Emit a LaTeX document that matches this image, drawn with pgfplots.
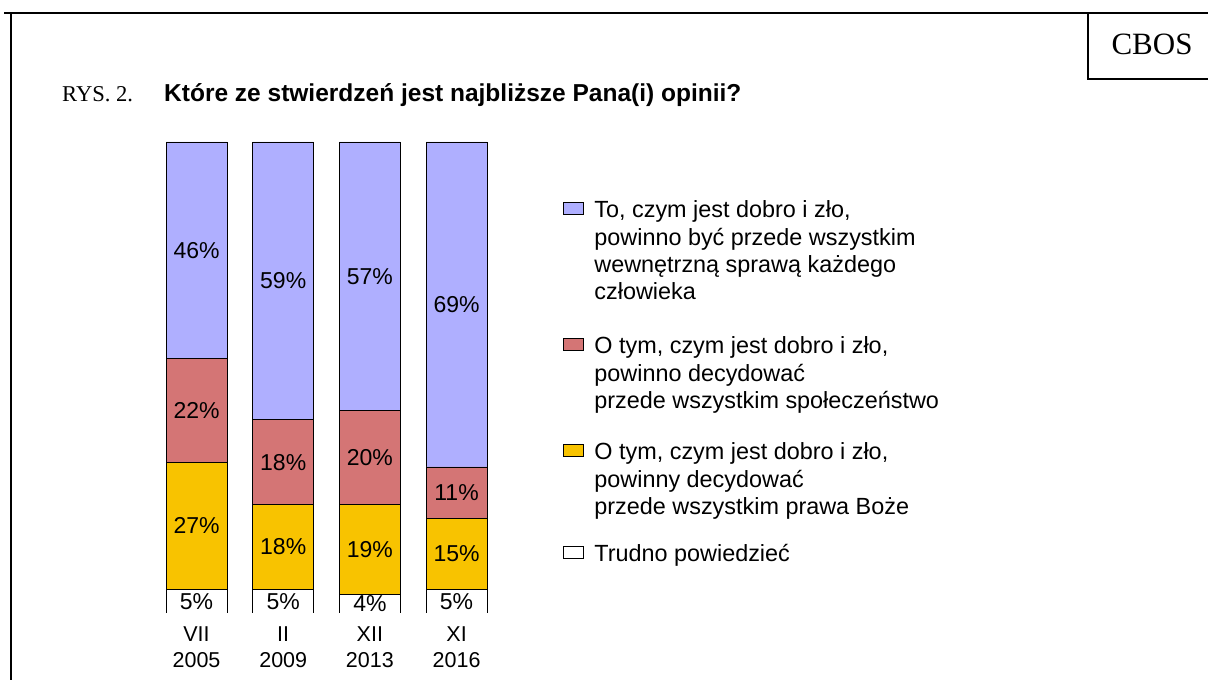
\documentclass[border=0pt]{standalone}
\usepackage{pgfplots}
\pgfplotsset{compat=1.18}
\usepackage{pgfplotstable}
\usepackage{fontspec}
\setmainfont{Liberation Sans}
\newfontfamily\timesfont{Liberation Serif}

\definecolor{cwew}{RGB}{175,175,255}
\definecolor{cspo}{RGB}{212,117,117}
\definecolor{cboz}{RGB}{248,195,0}
\newcommand\fs{\fontsize{23.4bp}{27.2bp}\selectfont}

% udzialy odpowiedzi (%), od dolu: trudno, prawa Boze, spoleczenstwo, wewnetrzna sprawa
\pgfplotstableread{
x trud boz spo wew
0 5 27 22 46
1 5 18 18 59
2 4 19 20 57
3 5 15 11 69
}\dane

% srodki segmentow - pozycje etykiet
\pgfplotstableread{
x y lab
0 2.5 5
0 18.5 27
0 43 22
0 77 46
1 2.5 5
1 14 18
1 32 18
1 70.5 59
2 2 4
2 13.5 19
2 33 20
2 71.5 57
3 2.5 5
3 12.5 15
3 25.5 11
3 65.5 69
}\etykiety

\begin{document}
\begin{tikzpicture}[x=1bp,y=1bp]
\path[use as bounding box] (0,0) rectangle (1208,680);

% ramka i naglowek
\draw[line width=2bp] (4,667) -- (1208,667);
\draw[line width=2bp] (11,667) -- (11,0);
\draw[line width=2bp] (1208,601) -- (1088,601) -- (1088,667);
\node[anchor=base, inner sep=0pt, font=\timesfont\fontsize{31bp}{36bp}\selectfont] at (1152,625) {CBOS};
\node[anchor=base west, inner sep=0pt, font=\timesfont\fontsize{22.6bp}{26bp}\selectfont] at (62,578) {RYS. 2.};
\node[anchor=base west, inner sep=0pt, font=\fontsize{24.5bp}{28bp}\selectfont\bfseries] at (164,578) {Które ze stwierdzeń jest najbliższe Pana(i) opinii?};

\begin{axis}[
  at={(153.2bp,67bp)}, anchor=south west,
  scale only axis, width=346.7bp, height=471bp,
  ybar stacked, bar width=0.704,
  xmin=-0.5, xmax=3.5, ymin=0, ymax=100,
  axis lines=left, axis line style={draw=none,-},
  tick style={draw=none}, ytick=\empty,
  xtick={0,1,2,3},
  xticklabels={{VII\\2005},{II\\2009},{XII\\2013},{XI\\2016}},
  xticklabel style={align=center, font=\fontsize{21.5bp}{26bp}\selectfont, inner sep=0pt, yshift=-11bp},
]
\addplot[fill=white, draw=black, line width=0.8bp] table[x=x, y=trud] {\dane};
\addplot[fill=cboz, draw=black, line width=0.8bp] table[x=x, y=boz] {\dane};
\addplot[fill=cspo, draw=black, line width=0.8bp] table[x=x, y=spo] {\dane};
\addplot[fill=cwew, draw=black, line width=0.8bp] table[x=x, y=wew] {\dane};
\end{axis}

\begin{axis}[
  at={(153.2bp,67bp)}, anchor=south west,
  scale only axis, width=346.7bp, height=471bp,
  xmin=-0.5, xmax=3.5, ymin=0, ymax=100,
  hide axis,
]
\addplot[draw=none, mark=none, point meta=explicit symbolic,
  nodes near coords={\pgfplotspointmeta\%}, nodes near coords align={center},
  every node near coord/.append style={font=\fontsize{23bp}{27bp}\selectfont, inner sep=0pt, text=black}]
  table[x=x, y=y, meta=lab] {\etykiety};
\end{axis}

% legenda
\begin{scope}[every node/.style={anchor=base west, inner sep=0pt, font=\fs}, line width=0.8bp]
\draw[fill=cwew] (563,465.3) rectangle (583,477.7);
\node at (594,462) {To, czym jest dobro i zło,};
\node at (594,434.8) {powinno być przede wszystkim};
\node at (594,407.6) {wewnętrzną sprawą każdego};
\node at (594,380.4) {człowieka};
\draw[fill=cspo] (563,329.3) rectangle (583,341.7);
\node at (594,326) {O tym, czym jest dobro i zło,};
\node at (594,298.8) {powinno decydować};
\node at (594,271.6) {przede wszystkim społeczeństwo};
\draw[fill=cboz] (563,223.3) rectangle (583,235.7);
\node at (594,220) {O tym, czym jest dobro i zło,};
\node at (594,192.8) {powinny decydować};
\node at (594,165.6) {przede wszystkim prawa Boże};
\draw[fill=white] (563,121.3) rectangle (583,133.7);
\node at (594,118) {Trudno powiedzieć};
\end{scope}
\end{tikzpicture}
\end{document}
